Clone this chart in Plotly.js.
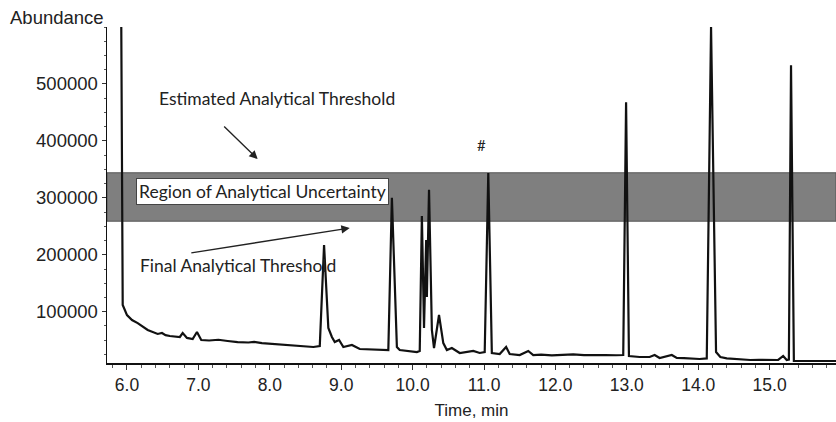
<!DOCTYPE html>
<html>
<head>
<meta charset="utf-8">
<script src="https://cdn.plot.ly/plotly-3.0.1.min.js"></script>
<style>html,body{margin:0;padding:0;background:#fff;}#chart{width:836px;height:422px;}</style>
</head>
<body>
<div id="chart"></div>
<script>
// Chromatogram: retention time (min) and abundance
const timeMin = [
  5.92, 5.93, 5.94, 6.00, 6.07, 6.15, 6.29, 6.43, 6.49, 6.54, 6.60, 6.74, 6.78, 6.84,
  6.92, 6.98, 7.04, 7.15, 7.28, 7.41, 7.55, 7.70, 7.78, 7.89, 8.00, 8.10, 8.20, 8.35,
  8.45, 8.55, 8.61, 8.70, 8.76, 8.82, 8.87, 8.91, 8.97, 9.03,
  9.15, 9.26, 9.35, 9.45, 9.54, 9.66, 9.71, 9.78, 9.82, 9.95, 10.06, 10.10, 10.13, 10.16, 10.19, 10.20,
  10.23, 10.27, 10.30, 10.37, 10.43, 10.48, 10.55, 10.66, 10.75, 10.85, 10.94, 11.01, 11.06,
  11.11, 11.22, 11.31, 11.36, 11.50, 11.62, 11.69, 11.80, 11.95, 12.10, 12.25, 12.40, 12.55,
  12.70, 12.85, 12.95, 12.99, 13.03,
  13.18, 13.32, 13.39, 13.46, 13.63, 13.70, 13.80, 13.90, 14.02, 14.12, 14.18, 14.25, 14.31, 14.40,
  14.52, 14.60, 14.73, 14.85, 15.00, 15.12, 15.19, 15.24, 15.27, 15.30, 15.34, 15.50, 15.57, 15.70,
  15.85, 15.93
];
const abundance = [
  600000, 300000, 112000, 94000, 85500, 80000, 68000, 61000, 62700, 59000, 57400, 55700, 62700, 54000,
  52000, 64400, 50400, 49500, 50800, 48600, 46500, 46000, 47000, 45000, 44000, 43600, 42400, 41600,
  40500, 39400, 38100, 39900, 217000, 71500, 55700, 46900, 50400, 38100,
  41600, 34600, 34000, 33400, 32800, 32800, 300000, 38100, 32800, 31000, 29300, 31000, 268000, 71500, 226000, 126000,
  314000, 68000, 36300, 94300, 45000, 32800, 36300, 27600, 28800, 31100, 27600, 29300, 343600,
  27600, 25800, 38100, 25800, 24000, 31100, 24000, 24600, 23400, 24200, 25200, 24000, 24600,
  24000, 23600, 24000, 468000, 22300,
  20500, 20500, 24000, 18800, 24000, 18800, 18500, 18000, 17000, 18000, 600000, 29300, 20500, 18200,
  17000, 16600, 15300, 15600, 15000, 15300, 22300, 15300, 16000, 533000, 13500, 13800, 13500, 14200,
  13500, 13500
];
// Threshold band (abundance)
const bandLow = 259000;
const bandHigh = 344000;
const xTickVals = [6, 7, 8, 9, 10, 11, 12, 13, 14, 15];
const yTickVals = [100000, 200000, 300000, 400000, 500000];

const trace = {
  x: timeMin, y: abundance, type: 'scatter', mode: 'lines',
  line: {color: '#111', width: 2.2}, hoverinfo: 'x+y', cliponaxis: true
};

const annFont = {family: 'Lato, "Open Sans", sans-serif', size: 17.5, color: '#222'};

const layout = {
  width: 836, height: 422,
  margin: {l: 107, r: 0, t: 27, b: 59},
  paper_bgcolor: '#fff', plot_bgcolor: '#fff',
  showlegend: false,
  font: {family: '"Liberation Sans", Arial, sans-serif', color: '#222', size: 17},
  xaxis: {
    range: [5.72, 15.93], showgrid: false, zeroline: false,
    showline: true, linecolor: '#111', linewidth: 1.5,
    ticks: 'outside', ticklen: 5, tickwidth: 1, tickcolor: '#333',
    tickvals: xTickVals, tickformat: '.1f',
    minor: {ticks: 'outside', dtick: 0.2, tick0: 6, ticklen: 3, tickcolor: '#555'},
    tickfont: {size: 17.5, color: '#222'},
    title: {text: 'Time, min', font: {size: 17, color: '#222'}, standoff: 10}
  },
  yaxis: {
    range: [10000, 600000], showgrid: false, zeroline: false,
    showline: true, linecolor: '#111', linewidth: 1.5,
    ticks: 'outside', ticklen: 4, tickwidth: 1, tickcolor: '#333',
    tickvals: yTickVals, tickformat: 'd',
    minor: {ticks: 'outside', dtick: 25000, tick0: 0, ticklen: 2, tickcolor: '#555'},
    tickfont: {size: 18.5, color: '#222'}
  },
  shapes: [{
    type: 'rect', xref: 'paper', x0: 0, x1: 1, yref: 'y', y0: bandLow, y1: bandHigh,
    fillcolor: '#7f7f7f', line: {color: '#555', width: 1}, layer: 'below'
  }],
  annotations: [
    {xref: 'paper', yref: 'paper', x: 0, y: 1, xanchor: 'right', yanchor: 'bottom',
     xshift: -1, yshift: -3, text: 'Abundance', showarrow: false,
     font: {family: '"Liberation Sans", Arial, sans-serif', size: 18.5, color: '#222'}},
    {x: 8.10, y: 473600, text: 'Estimated Analytical Threshold', showarrow: false, font: annFont},
    {x: 7.83, y: 368000, ax: 7.34, ay: 428000, axref: 'x', ayref: 'y', text: '',
     showarrow: true, arrowhead: 2, arrowsize: 1.2, arrowwidth: 1.4, arrowcolor: '#222'},
    {x: 7.90, y: 311000, text: 'Region of Analytical Uncertainty', showarrow: false,
     bgcolor: '#fff', bordercolor: '#444', borderwidth: 1, borderpad: 2, font: annFont},
    {x: 7.55, y: 182000, text: 'Final Analytical Threshold', showarrow: false, font: annFont},
    {x: 9.12, y: 247000, ax: 6.88, ay: 203000, axref: 'x', ayref: 'y', text: '',
     showarrow: true, arrowhead: 2, arrowsize: 1.2, arrowwidth: 1.4, arrowcolor: '#222'},
    {x: 10.97, y: 393000, text: '#', showarrow: false, font: {family: 'Lato, sans-serif', size: 15, color: '#222'}}
  ]
};

Plotly.newPlot('chart', [trace], layout, {displayModeBar: false, staticPlot: true});
</script>
</body>
</html>
